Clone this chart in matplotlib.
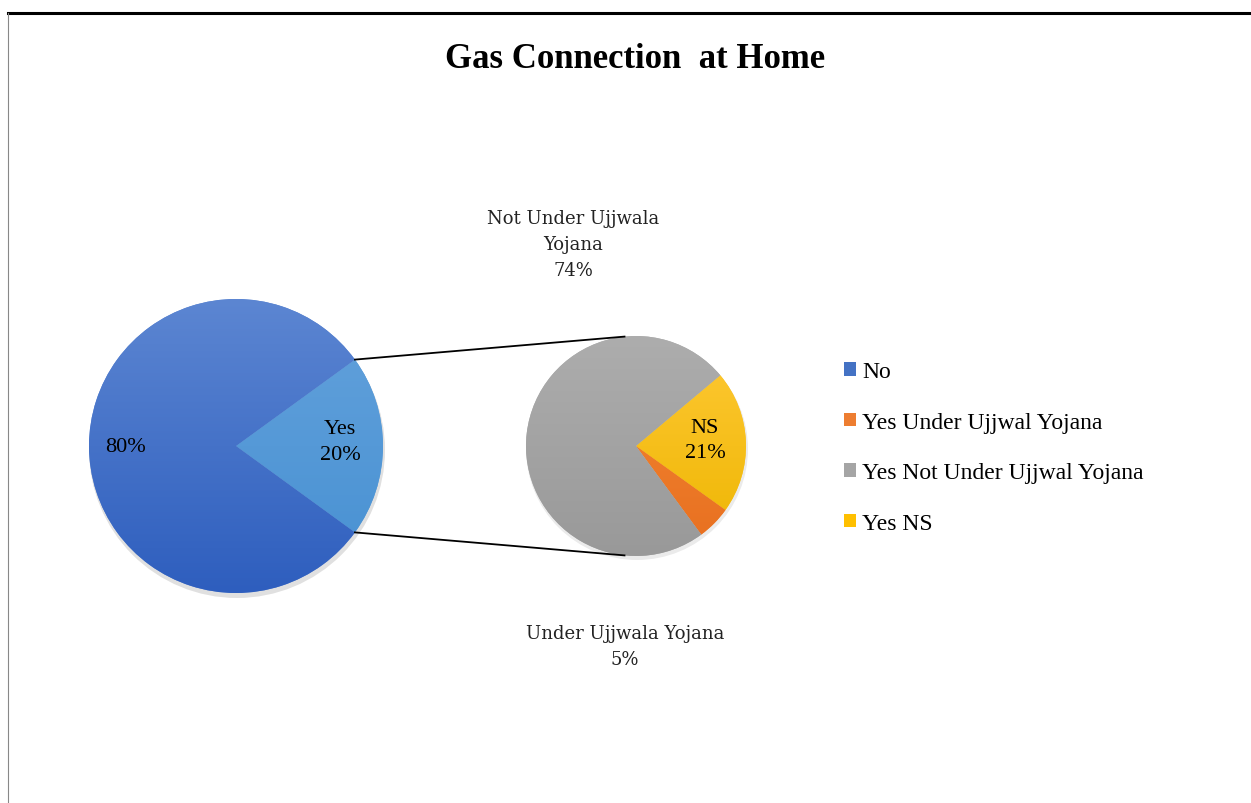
import numpy as np
import matplotlib
matplotlib.use("Agg")
import matplotlib.pyplot as plt
from matplotlib.patches import Patch, Circle
from matplotlib.colors import LinearSegmentedColormap
from matplotlib.lines import Line2D

# ---- data ----
title = "Gas Connection  at Home"
main_labels = ["No", "Yes"]
main_values = [80, 20]
sub_labels = ["NS", "Under Ujjwala Yojana", "Not Under Ujjwala Yojana"]
sub_values = [21, 5, 74]
legend_labels = ["No", "Yes Under Ujjwal Yojana", "Yes Not Under Ujjwal Yojana", "Yes NS"]

# ---- styles ----
main_grad = [("#5C86D2", "#2E5EBE"), ("#64A2DC", "#4690D2")]
sub_grad = [("#FFC936", "#EDB500"), ("#F38936", "#E86F1F"), ("#ADADAD", "#999999")]
legend_colors = ["#4472C4", "#ED7D31", "#A5A5A5", "#FFC000"]
serif = ["Liberation Serif", "DejaVu Serif"]
wide_serif = ["DejaVu Serif"]

W, H = 1251, 804
fig = plt.figure(figsize=(W / 100, H / 100), dpi=100)
ax = fig.add_axes([0, 0, 1, 1])

def py(y):
    return H - y

c1 = (236, py(447)); r1 = 147
c2 = (636, py(447)); r2 = 110

# shadows
ax.add_patch(Circle((c1[0] + 1, c1[1] - 4), r1 + 1, color="#000000", alpha=0.12, zorder=0, lw=0))
ax.add_patch(Circle((c2[0] + 1, c2[1] - 3), r2 + 1, color="#000000", alpha=0.08, zorder=0, lw=0))

yes_angle = main_values[1] / sum(main_values) * 360
w1, _ = ax.pie(main_values[::-1], center=c1, radius=r1, startangle=-yes_angle / 2,
               counterclock=True, colors=[g[0] for g in main_grad[::-1]],
               wedgeprops=dict(linewidth=0))
w2, _ = ax.pie(sub_values, center=c2, radius=r2, startangle=40, counterclock=False,
               colors=[g[0] for g in sub_grad], wedgeprops=dict(linewidth=0))

def gradient(wedges, grads, c, r):
    for w, (top, bot) in zip(wedges, grads):
        cmap = LinearSegmentedColormap.from_list("g", [bot, top])
        img = np.linspace(0, 1, 256).reshape(-1, 1)
        im = ax.imshow(img, cmap=cmap, origin="lower", aspect="auto",
                       extent=(c[0] - r, c[0] + r, c[1] - r, c[1] + r), zorder=2)
        im.set_clip_path(w)

gradient(w1, main_grad[::-1], c1, r1)
gradient(w2, sub_grad, c2, r2)

# connector lines
a = np.deg2rad(yes_angle / 2)
p_top = (c1[0] + r1 * np.cos(a), c1[1] + r1 * np.sin(a))
p_bot = (c1[0] + r1 * np.cos(a), c1[1] - r1 * np.sin(a))
b = np.deg2rad(96)
q_top = (c2[0] + r2 * np.cos(b), c2[1] + r2 * np.sin(b))
q_bot = (c2[0] + r2 * np.cos(b), c2[1] - r2 * np.sin(b))
for p, q in [(p_top, q_top), (p_bot, q_bot)]:
    ax.plot([p[0], q[0]], [p[1], q[1]], color="black", lw=1.3, zorder=3)

# labels
fs = 16
ax.text(125, py(448), f"{main_values[0]}%", ha="center", va="center", fontsize=fs,
        family=serif, zorder=5)
ax.text(340, py(443), f"{main_labels[1]}\n{main_values[1]}%", ha="center", va="center",
        fontsize=fs, family=serif, linespacing=1.5, zorder=5)
ax.text(705, py(441), f"{sub_labels[0]}\n{sub_values[0]}%", ha="center", va="center",
        fontsize=fs, family=serif, linespacing=1.4, zorder=5)
ax.text(573, py(245), "Not Under Ujjwala\nYojana\n" + f"{sub_values[2]}%", ha="center",
        va="center", fontsize=13, family=wide_serif, linespacing=1.55, zorder=5, color="#222222")
ax.text(625, py(647), f"{sub_labels[1]}\n{sub_values[1]}%", ha="center", va="center",
        fontsize=13, family=wide_serif, linespacing=1.6, zorder=5, color="#222222")

# title
ax.text(635, py(60), title, ha="center", va="center", fontsize=25, fontweight="bold",
        family=serif)

# legend
handles = [Patch(facecolor=c, edgecolor="none") for c in legend_colors]
leg = ax.legend(handles, legend_labels, loc="upper left", bbox_to_anchor=(823 / W, 1 - 341 / H),
                frameon=False, prop=dict(family=serif, size=17), handlelength=0.5,
                handleheight=0.5, handletextpad=0.25, labelspacing=1.25)

# frame lines
fig.add_artist(Line2D([8 / W, 1], [1 - 14 / H, 1 - 14 / H], color="black", lw=2.2))
fig.add_artist(Line2D([8 / W, 8 / W], [0, 1 - 14 / H], color="#888888", lw=0.8))

ax.set_xlim(0, W)
ax.set_ylim(0, H)
ax.set_aspect("equal")
ax.axis("off")
fig.savefig("out.png", dpi=100)
